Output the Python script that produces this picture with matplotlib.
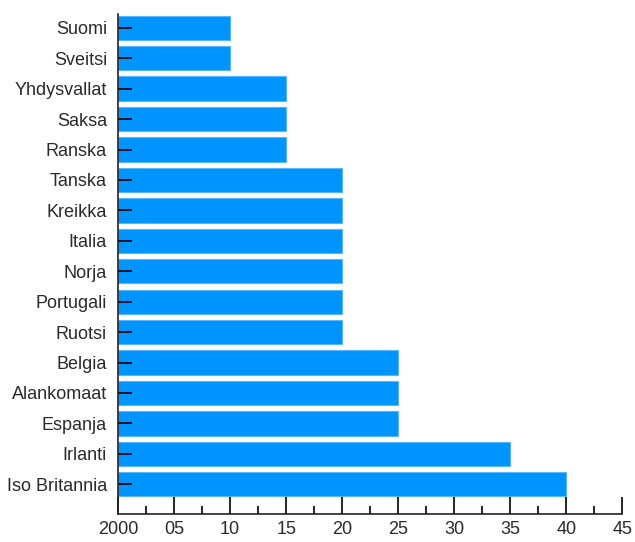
import numpy as np
import matplotlib.pyplot as plt
from matplotlib.ticker import MultipleLocator

maat = ['Suomi', 'Sveitsi', 'Yhdysvallat', 'Saksa', 'Ranska', 'Tanska', 'Kreikka',
        'Italia', 'Norja', 'Portugali', 'Ruotsi', 'Belgia', 'Alankomaat', 'Espanja',
        'Irlanti', 'Iso Britannia']
arvot = [10, 10, 15, 15, 15, 20, 20, 20, 20, 20, 20, 25, 25, 25, 35, 40]
x_ticks = [0, 5, 10, 15, 20, 25, 30, 35, 40, 45]
x_labels = ['2000', '05', '10', '15', '20', '25', '30', '35', '40', '45']

plt.rcParams['font.family'] = ['Liberation Sans', 'DejaVu Sans']

fig = plt.figure(figsize=(6.35, 5.42), dpi=100)
ax = fig.add_axes([0.186, 0.052, 0.794, 0.922])

pos = np.arange(len(maat))
ax.barh(pos, arvot, height=0.8, color='#0094ff', edgecolor='#5ab4ff', linewidth=0.8)

ax.set_ylim(15.97, -0.45)
ax.set_xlim(0, 45)
ax.set_yticks(pos)
ax.set_yticklabels(maat, fontsize=13, color='#2a2a2a')
ax.set_xticks(x_ticks)
ax.set_xticklabels(x_labels, fontsize=13, color='#2a2a2a')
ax.xaxis.set_minor_locator(MultipleLocator(2.5))

ax.tick_params(axis='y', direction='in', length=10, width=1.2, pad=8)
ax.tick_params(axis='x', which='major', direction='in', length=12, width=1.2, pad=5)
ax.tick_params(axis='x', which='minor', direction='in', length=6, width=1.2)

for s in ['top', 'right']:
    ax.spines[s].set_visible(False)
for s in ['left', 'bottom']:
    ax.spines[s].set_linewidth(1.2)
    ax.spines[s].set_color('#222222')

fig.savefig('out.png', dpi=100)
